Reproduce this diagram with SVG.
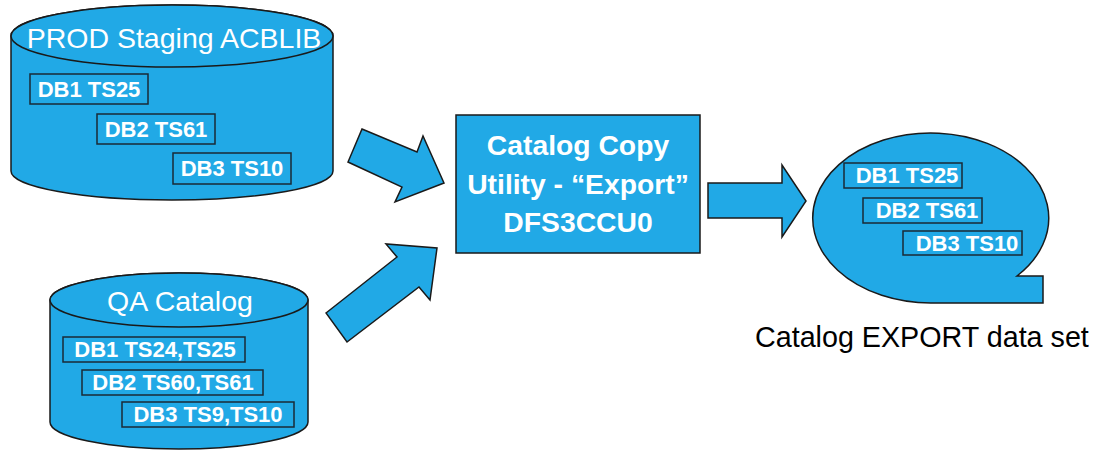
<svg xmlns="http://www.w3.org/2000/svg" width="1096" height="451" viewBox="0 0 1096 451">
<style>
.shape{fill:#21A9E6;stroke:#1a1a1a;stroke-width:1.5}
.box{fill:#21A9E6;stroke:#1a2a36;stroke-width:1.5}
.lbl{font-family:"Liberation Sans",Arial,sans-serif;font-weight:bold;font-size:22px;fill:#ffffff;text-anchor:middle}
.title{font-family:"Liberation Sans",Arial,sans-serif;font-size:28.5px;fill:#ffffff;text-anchor:middle}
.main{font-family:"Liberation Sans",Arial,sans-serif;font-weight:bold;font-size:28.3px;fill:#ffffff;text-anchor:middle}
.cap{font-family:"Liberation Sans",Arial,sans-serif;font-size:28.7px;fill:#000000}
</style>
<rect width="1096" height="451" fill="#ffffff"/>
<g id="prod">
<path class="shape" d="M11,36 L11,171 A161,29 0 0 0 333,171 L333,36 A161,31 0 0 0 11,36 Z"/>
<ellipse class="shape" cx="172" cy="36" rx="161" ry="31"/>
<text class="title" x="174" y="48">PROD Staging ACBLIB</text>
<rect class="box" x="30" y="74" width="118" height="30"/>
<text class="lbl" x="89" y="97">DB1 TS25</text>
<rect class="box" x="97" y="114" width="118" height="30"/>
<text class="lbl" x="156" y="137">DB2 TS61</text>
<rect class="box" x="173" y="153" width="118" height="31"/>
<text class="lbl" x="232" y="176">DB3 TS10</text>
</g>
<g id="qa">
<path class="shape" d="M50,300 L50,422 A129,27 0 0 0 308,422 L308,300 A129,27 0 0 0 50,300 Z"/>
<ellipse class="shape" cx="179" cy="300" rx="129" ry="27"/>
<text class="title" x="180" y="311">QA Catalog</text>
<rect class="box" x="63" y="337" width="182" height="25"/>
<text class="lbl" x="155" y="357">DB1 TS24,TS25</text>
<rect class="box" x="82" y="370" width="181" height="25"/>
<text class="lbl" x="173" y="390">DB2 TS60,TS61</text>
<rect class="box" x="122" y="402" width="172" height="25"/>
<text class="lbl" x="208" y="422">DB3 TS9,TS10</text>
</g>
<g id="utility">
<rect class="shape" x="456" y="115" width="244" height="138"/>
<text class="main" x="578" y="155">Catalog Copy</text>
<text class="main" x="578" y="194">Utility - “Export”</text>
<text class="main" x="578" y="232">DFS3CCU0</text>
</g>
<g id="export">
<path class="shape" d="M931,303 L1043,303 L1043,276 L1017,276 A118,85 0 1 0 931,303 Z"/>
<rect class="box" x="844" y="163" width="118" height="25"/>
<text class="lbl" x="907" y="183">DB1 TS25</text>
<rect class="box" x="863" y="198" width="119" height="25"/>
<text class="lbl" x="927" y="218">DB2 TS61</text>
<rect class="box" x="903" y="231" width="119" height="24"/>
<text class="lbl" x="967" y="251">DB3 TS10</text>
<text class="cap" x="755" y="347">Catalog EXPORT data set</text>
</g>
<g id="connectors">
<polygon class="shape" points="362,129 417,152 423,136 444,183 395,202 402,187 348,162"/>
<polygon class="shape" points="326,313 397,257 386,244 437,248 430,300 419,287 347,342"/>
<polygon class="shape" points="708,183 782,183 782,165 806,201 782,237 782,218 708,218"/>
</g>
</svg>
